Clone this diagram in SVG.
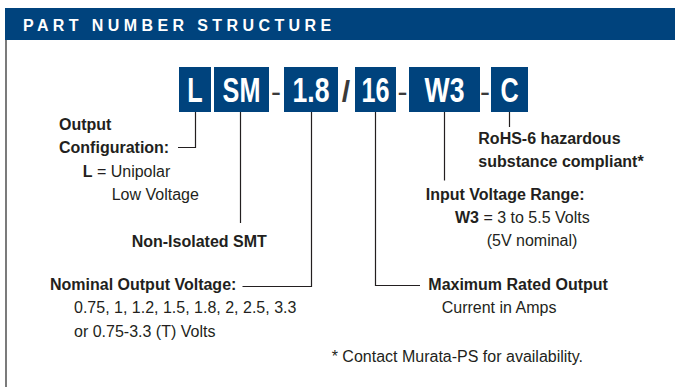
<svg xmlns="http://www.w3.org/2000/svg" width="675" height="387" viewBox="0 0 675 387">
<style>
.t{font-family:"Liberation Sans",Arial,sans-serif;font-size:16px;fill:#231f20}
.b{font-weight:bold}
.box{fill:#00437d}
.bt{font-family:"Liberation Sans",Arial,sans-serif;font-weight:bold;font-size:35px;fill:#ffffff;text-anchor:middle}
.sep{font-family:"Liberation Sans",Arial,sans-serif;font-size:30px;fill:#3a3a3a;text-anchor:middle}
.ln{fill:none;stroke:#231f20;stroke-width:1.2}
</style>
<rect width="675" height="387" fill="#ffffff"/>
<rect x="5" y="8" width="670" height="32" fill="#00437d"/>
<text x="23" y="31" font-family="'Liberation Sans',Arial,sans-serif" font-weight="bold" font-size="16" fill="#ffffff" letter-spacing="4.4">PART NUMBER STRUCTURE</text>
<line x1="6" y1="40" x2="6" y2="387" stroke="#333" stroke-width="1.3"/>

<g id="code">
<g id="box-L"><rect class="box" x="179" y="67" width="32" height="45"/><text class="bt" transform="translate(195,102) scale(0.72,1)">L</text></g>
<g id="box-SM"><rect class="box" x="214" y="67" width="55" height="45"/><text class="bt" transform="translate(241.5,102) scale(0.72,1)">SM</text></g>
<text class="sep" x="276" y="102">-</text>
<g id="box-18"><rect class="box" x="284" y="67" width="54" height="45"/><text class="bt" transform="translate(311,102) scale(0.76,1)">1.8</text></g>
<text class="sep" x="346" y="102" font-weight="bold" font-size="34">/</text>
<g id="box-16"><rect class="box" x="355" y="67" width="41" height="45"/><text class="bt" transform="translate(375.5,102) scale(0.72,1)">16</text></g>
<text class="sep" x="402.5" y="102">-</text>
<g id="box-W3"><rect class="box" x="409" y="67" width="71" height="45"/><text class="bt" transform="translate(444.5,102) scale(0.76,1)">W3</text></g>
<text class="sep" x="485" y="102">-</text>
<g id="box-C"><rect class="box" x="491" y="67" width="37" height="45"/><text class="bt" transform="translate(509.5,102) scale(0.72,1)">C</text></g>
</g>

<g id="connectors">
<path class="ln" d="M195.5 112 V147.5 H178"/>
<path class="ln" d="M240.5 112 V223"/>
<path class="ln" d="M311.5 112 V286.5 H242.5"/>
<path class="ln" d="M375.5 112 V285.5 H420"/>
<path class="ln" d="M444.5 112 V180.5"/>
<path class="ln" d="M509.5 112 V127"/>
</g>

<g id="output-config">
<text class="t b" x="59" y="129.5">Output</text>
<text class="t b" x="59" y="153">Configuration:</text>
<text class="t" x="82.7" y="177"><tspan class="b">L</tspan> = Unipolar</text>
<text class="t" x="111.7" y="200">Low Voltage</text>
</g>
<g id="non-isolated">
<text class="t b" x="131.7" y="247.3">Non-Isolated SMT</text>
</g>
<g id="nominal-voltage">
<text class="t b" x="50" y="290">Nominal Output Voltage:</text>
<text class="t" x="74" y="313">0.75, 1, 1.2, 1.5, 1.8, 2, 2.5, 3.3</text>
<text class="t" x="74" y="336.5">or 0.75-3.3 (T) Volts</text>
</g>
<g id="max-current">
<text class="t b" x="428.3" y="290">Maximum Rated Output</text>
<text class="t" x="441.7" y="313">Current in Amps</text>
</g>
<g id="input-range">
<text class="t b" x="425.7" y="200">Input Voltage Range:</text>
<text class="t" x="455" y="223"><tspan class="b">W3</tspan> = 3 to 5.5 Volts</text>
<text class="t" x="486.7" y="246">(5V nominal)</text>
</g>
<g id="rohs">
<text class="t b" x="478.3" y="144">RoHS-6 hazardous</text>
<text class="t b" x="478.3" y="167">substance compliant*</text>
</g>
<g id="footnote">
<text class="t" x="331.7" y="362">* Contact Murata-PS for availability.</text>
</g>
</svg>
